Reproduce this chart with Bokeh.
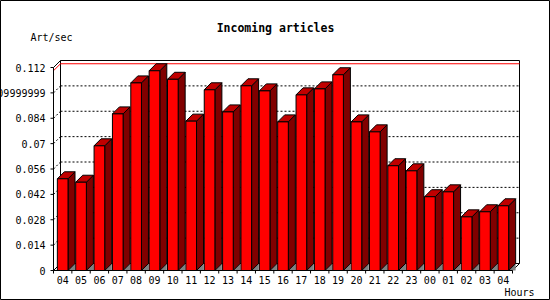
from bokeh.plotting import figure
from bokeh.models import Range1d, Label
from bokeh.embed import file_html
from bokeh.resources import INLINE
from bokeh.core.properties import value

# ---- data ----
hours = ["04", "05", "06", "07", "08", "09", "10", "11", "12", "13", "14", "15",
         "16", "17", "18", "19", "20", "21", "22", "23", "00", "01", "02", "03", "04"]
rates = [0.0506, 0.0487, 0.0688, 0.0864, 0.1035, 0.1102, 0.1055, 0.0824, 0.0997,
         0.0875, 0.1019, 0.0991, 0.0820, 0.0969, 0.1002, 0.1080, 0.0820, 0.0765,
         0.0578, 0.0550, 0.0407, 0.0434, 0.0296, 0.0324, 0.0357]
y_ticks = [0, 0.014, 0.028, 0.042, 0.056, 0.07, 0.084, 0.098, 0.112]
y_tick_labels = ["0", "0.014", "0.028", "0.042", "0.056", "0.07", "0.084",
                 "0.09999999", "0.112"]
title_text = "Incoming articles"
y_title = "Art/sec"
x_title = "Hours"

FONT = "DejaVu Sans Mono"
W, H = 550, 300
n = len(hours)
xs = list(range(n))
y_top = y_ticks[-1]
max_rate = max(rates)

# ---- geometry: pixel scale of the plot area ----
left_px, bottom_px = 53, 270          # where the front axes meet
px_per_x = 18.36
px_per_y = 203 / y_top
depth_px = 7
dx = depth_px / px_per_x
dy = depth_px / px_per_y
hw = 0.29
tick_x = 3 / px_per_x
tick_y = 3 / px_per_y

x_start = -0.5 - left_px / px_per_x
y_start = -(H - bottom_px) / px_per_y

p = figure(width=W, height=H, frame_width=W, frame_height=H,
           min_border=0, min_border_left=0, min_border_right=0,
           min_border_top=0, min_border_bottom=0,
           x_range=Range1d(x_start, x_start + W / px_per_x),
           y_range=Range1d(y_start, y_start + H / px_per_y),
           x_axis_type=None, y_axis_type=None,
           output_backend="svg", toolbar_location=None)
p.background_fill_color = "white"
p.border_fill_color = "white"
p.outline_line_color = "black"
p.outline_line_width = 1
p.xgrid.visible = False
p.ygrid.visible = False

x0 = -0.5
x1 = n - 0.5
bx0 = x0 + dx
bx1 = x1 + dx

# dotted grid on back wall + connectors
grid_vals = y_ticks[1:-1]
p.segment(x0=[bx0] * len(grid_vals), y0=[v + dy for v in grid_vals],
          x1=[bx1] * len(grid_vals), y1=[v + dy for v in grid_vals],
          line_color="black", line_width=1, line_dash="2 2")
p.segment(x0=[x0] * len(grid_vals), y0=grid_vals,
          x1=[bx0] * len(grid_vals), y1=[v + dy for v in grid_vals],
          line_color="black", line_width=1, line_dash="2 2")

# back wall frame
p.segment(x0=[bx0, bx0, bx1, bx0, x0, x1, x0],
          y0=[dy, y_top + dy, dy, dy, y_top, 0, 0],
          x1=[bx0, bx1, bx1, bx1, bx0, bx1, bx0],
          y1=[y_top + dy, y_top + dy, y_top + dy, dy, y_top + dy, dy, dy],
          line_color="black", line_width=1)

# max line
p.segment(x0=[bx0, x0], y0=[max_rate + dy, max_rate],
          x1=[bx1, bx0], y1=[max_rate + dy, max_rate + dy],
          line_color="red", line_width=1)

# bars
rights = [x + hw for x in xs]
lefts = [x - hw for x in xs]
p.patches(xs=[[r, r + dx, r + dx] for r in rights],
          ys=[[0, 0, dy] for _ in rights],
          fill_color="#808080", line_color=None)
p.patches(xs=[[r, r + dx, r + dx, r] for r in rights],
          ys=[[0, dy, v + dy, v] for v in rates],
          fill_color="#800000", line_color="black", line_width=1)
p.patches(xs=[[l, r, r + dx, l + dx] for l, r in zip(lefts, rights)],
          ys=[[v, v, v + dy, v + dy] for v in rates],
          fill_color="#C00000", line_color="black", line_width=1)
p.quad(left=lefts, right=rights, bottom=0, top=rates,
       fill_color="#FF0000", line_color="black", line_width=1)

# front axes (drawn on the plot's own scales)
p.segment(x0=[x0, x0], y0=[0, 0], x1=[x1, x0], y1=[0, y_top],
          line_color="black", line_width=1)
bounds = [x - 0.5 for x in xs] + [x1]
p.segment(x0=bounds, y0=[0] * len(bounds), x1=bounds, y1=[-tick_y] * len(bounds),
          line_color="black", line_width=1)
p.segment(x0=[x0 - tick_x] * len(y_ticks), y0=y_ticks, x1=[x0] * len(y_ticks), y1=y_ticks,
          line_color="black", line_width=1)

# tick labels
p.text(x=xs, y=[0] * n, text=hours, y_offset=5,
       text_align="center", text_baseline="top",
       text_font=value(FONT), text_font_size="10px", text_color="black")
p.text(x=[x0] * len(y_ticks), y=y_ticks, text=y_tick_labels, x_offset=-8,
       text_align="right", text_baseline="middle",
       text_font=value(FONT), text_font_size="10px", text_color="black")

# titles
p.add_layout(Label(x=275, y=H - 27, x_units="screen", y_units="screen", text=title_text,
                   text_align="center", text_baseline="middle", text_font=FONT,
                   text_font_size="11.5px", text_font_style="bold", text_color="black"))
p.add_layout(Label(x=30, y=H - 37, x_units="screen", y_units="screen", text=y_title,
                   text_align="left", text_baseline="middle", text_font=FONT,
                   text_font_size="10px", text_color="black"))
p.add_layout(Label(x=504, y=H - 292, x_units="screen", y_units="screen", text=x_title,
                   text_align="left", text_baseline="middle", text_font=FONT,
                   text_font_size="10px", text_color="black"))

open("out.html", "w").write(file_html(p, INLINE))
